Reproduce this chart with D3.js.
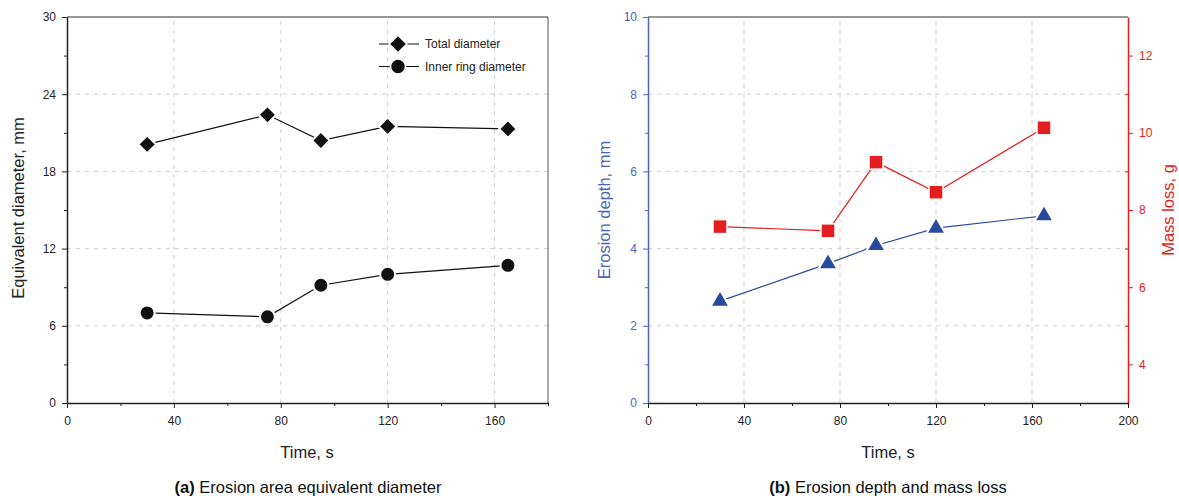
<!DOCTYPE html>
<html>
<head>
<meta charset="utf-8">
<script src="https://cdn.jsdelivr.net/npm/d3@7"></script>
<style>
  body { margin: 0; background: #fff; }
  svg text { font-family: "Liberation Sans", Arial, sans-serif; }
  .grid line { stroke: #cfcfcf; stroke-dasharray: 4,5; stroke-width: 1; }
</style>
</head>
<body>
<div class="container"></div>
<script>
const WIDTH = 1179;
const HEIGHT = 496;
const TOP = 17;
const BOTTOM = 403;

// chart (a)
const timeA = [30, 75, 95, 120, 165];
const totalDiameter = [20.1, 22.4, 20.4, 21.5, 21.3];
const innerDiameter = [7.0, 6.7, 9.15, 10.0, 10.7];
const yTicksA = [0, 6, 12, 18, 24, 30];
const xTicksA = [0, 40, 80, 120, 160];

// chart (b)
const timeB = [30, 75, 95, 120, 165];
const erosionDepth = [2.64, 3.61, 4.08, 4.53, 4.85];
const massLoss = [7.57, 7.46, 9.24, 8.46, 10.13];
const yTicksB = [0, 2, 4, 6, 8, 10];
const y2TicksB = [4, 6, 8, 10, 12];
const xTicksB = [0, 40, 80, 120, 160, 200];

const BLUE_AXIS = "#4a66b5";
const BLUE = "#264a9c";
const RED = "#e41e20";

var translate = function(x, y){
    return "translate(" + x + "," + y + ")";
};

var svg = d3.select(".container").append("svg")
    .attr("width", WIDTH)
    .attr("height", HEIGHT);

// ---------- chart (a)
var xA = d3.scaleLinear().domain([0, 180]).range([67, 548]);
var yA = d3.scaleLinear().domain([0, 30]).range([BOTTOM, TOP]);

var drawGrid = function(xs, ys, xt, yt){
    var g = svg.append("g").attr("class", "grid");
    g.selectAll(".gx").data(xt).enter().append("line")
        .attr("x1", d => xs(d)).attr("x2", d => xs(d))
        .attr("y1", ys.range()[0]).attr("y2", ys.range()[1]);
    g.selectAll(".gy").data(yt).enter().append("line")
        .attr("y1", d => ys(d)).attr("y2", d => ys(d))
        .attr("x1", xs.range()[0]).attr("x2", xs.range()[1]);
};

drawGrid(xA, yA, [40, 80, 120, 160], [6, 12, 18, 24]);

// frame
svg.append("line").attr("x1", xA(0)).attr("x2", xA(180)).attr("y1", TOP).attr("y2", TOP)
    .attr("stroke", "#333").attr("stroke-width", 1.2);
svg.append("line").attr("x1", xA(180)).attr("x2", xA(180)).attr("y1", TOP).attr("y2", BOTTOM)
    .attr("stroke", "#555").attr("stroke-width", 1);

var styleAxis = function(g, color, size){
    g.select(".domain").attr("stroke", color).attr("stroke-width", 1.5);
    g.selectAll(".tick line").attr("stroke", color).attr("stroke-width", 1);
    g.selectAll(".tick text").attr("fill", color).style("font-size", size + "px");
};

var minorAxis = function(axisFn, scale, vals, pos, color){
    var g = svg.append("g").attr("transform", pos)
        .call(axisFn(scale).tickValues(vals).tickSize(3).tickFormat(""));
    g.select(".domain").remove();
    g.selectAll(".tick line").attr("stroke", color);
};

minorAxis(d3.axisBottom, xA, [20, 60, 100, 140, 180], translate(0, BOTTOM), "#222");
minorAxis(d3.axisLeft, yA, [3, 9, 15, 21, 27], translate(xA(0), 0), "#222");

var gxA = svg.append("g").attr("transform", translate(0, BOTTOM))
    .call(d3.axisBottom(xA).tickValues(xTicksA).tickSize(5).tickPadding(8).tickSizeOuter(0));
styleAxis(gxA, "#222", 12);
var gyA = svg.append("g").attr("transform", translate(xA(0), 0))
    .call(d3.axisLeft(yA).tickValues(yTicksA).tickSize(5).tickPadding(6).tickSizeOuter(0));
styleAxis(gyA, "#222", 12);

var lineA = d3.line().x((d, i) => xA(timeA[i])).y(d => yA(d));
svg.append("path").datum(totalDiameter).attr("d", lineA)
    .attr("fill", "none").attr("stroke", "#111").attr("stroke-width", 1.2);
svg.append("path").datum(innerDiameter).attr("d", lineA)
    .attr("fill", "none").attr("stroke", "#111").attr("stroke-width", 1.2);

var diamond = d3.symbol().type(d3.symbolDiamond2).size(200);
svg.append("g").selectAll("path").data(totalDiameter).enter().append("path")
    .attr("d", diamond)
    .attr("transform", (d, i) => translate(xA(timeA[i]), yA(d)))
    .attr("fill", "#111").attr("stroke", "#fff").attr("stroke-width", 2);
svg.append("g").selectAll("circle").data(innerDiameter).enter().append("circle")
    .attr("cx", (d, i) => xA(timeA[i])).attr("cy", d => yA(d)).attr("r", 7.5)
    .attr("fill", "#111").attr("stroke", "#fff").attr("stroke-width", 2);

// legend
var legend = svg.append("g").attr("transform", translate(379, 44));
[["Total diameter", "d"], ["Inner ring diameter", "c"]].forEach(function(item, i){
    var g = legend.append("g").attr("transform", translate(0, i * 22.5));
    g.append("line").attr("x1", 0).attr("x2", 40).attr("stroke", "#111").attr("stroke-width", 1.2);
    if (item[1] === "d") {
        g.append("path").attr("d", diamond).attr("transform", translate(19, 0))
            .attr("fill", "#111").attr("stroke", "#fff").attr("stroke-width", 1.5);
    } else {
        g.append("circle").attr("cx", 19).attr("r", 7.5)
            .attr("fill", "#111").attr("stroke", "#fff").attr("stroke-width", 1.5);
    }
    g.append("text").attr("x", 46).attr("y", 4).style("font-size", "12px")
        .attr("fill", "#222").text(item[0]);
});

svg.append("text").attr("transform", translate(24, 208) + " rotate(-90)")
    .attr("text-anchor", "middle").style("font-size", "16.5px").attr("fill", "#222")
    .text("Equivalent diameter, mm");
svg.append("text").attr("x", 307).attr("y", 458).attr("text-anchor", "middle")
    .style("font-size", "16.5px").attr("fill", "#222").text("Time, s");
var capA = svg.append("text").attr("x", 308).attr("y", 493).attr("text-anchor", "middle")
    .style("font-size", "16.5px").attr("fill", "#111");
capA.append("tspan").attr("font-weight", "bold").text("(a)");
capA.append("tspan").text(" Erosion area equivalent diameter");

// ---------- chart (b)
var xB = d3.scaleLinear().domain([0, 200]).range([648, 1128]);
var yB = d3.scaleLinear().domain([0, 10]).range([BOTTOM, TOP]);
var y2B = d3.scaleLinear().domain([3, 13]).range([BOTTOM, TOP]);

drawGrid(xB, yB, [40, 80, 120, 160], [2, 4, 6, 8]);

svg.append("line").attr("x1", xB(0)).attr("x2", xB(200)).attr("y1", TOP).attr("y2", TOP)
    .attr("stroke", "#333").attr("stroke-width", 1.2);

minorAxis(d3.axisBottom, xB, [20, 60, 100, 140, 180], translate(0, BOTTOM), "#222");
minorAxis(d3.axisLeft, yB, [1, 3, 5, 7, 9], translate(xB(0), 0), BLUE_AXIS);
minorAxis(d3.axisLeft, y2B, [5, 7, 9, 11], translate(xB(200), 0), RED);

var gyB = svg.append("g").attr("transform", translate(xB(0), 0))
    .call(d3.axisLeft(yB).tickValues(yTicksB).tickSize(5).tickPadding(6).tickSizeOuter(0));
styleAxis(gyB, BLUE_AXIS, 12);
var gy2B = svg.append("g").attr("transform", translate(xB(200), 0))
    .call(d3.axisRight(y2B).tickValues(y2TicksB).tickSize(5).tickPadding(6).tickSizeOuter(0));
styleAxis(gy2B, RED, 12);
var gxB = svg.append("g").attr("transform", translate(0, BOTTOM))
    .call(d3.axisBottom(xB).tickValues(xTicksB).tickSize(5).tickPadding(8).tickSizeOuter(0));
styleAxis(gxB, "#222", 12);

var lineDepth = d3.line().x((d, i) => xB(timeB[i])).y(d => yB(d));
var lineMass = d3.line().x((d, i) => xB(timeB[i])).y(d => y2B(d));
svg.append("path").datum(erosionDepth).attr("d", lineDepth)
    .attr("fill", "none").attr("stroke", BLUE).attr("stroke-width", 1.2);
svg.append("path").datum(massLoss).attr("d", lineMass)
    .attr("fill", "none").attr("stroke", RED).attr("stroke-width", 1.2);

var tri = d3.symbol().type(d3.symbolTriangle).size(160);
svg.append("g").selectAll("path").data(erosionDepth).enter().append("path")
    .attr("d", tri)
    .attr("transform", (d, i) => translate(xB(timeB[i]), yB(d)))
    .attr("fill", BLUE).attr("stroke", "#fff").attr("stroke-width", 2);
svg.append("g").selectAll("rect").data(massLoss).enter().append("rect")
    .attr("x", (d, i) => xB(timeB[i]) - 7).attr("y", d => y2B(d) - 7)
    .attr("width", 14).attr("height", 14)
    .attr("fill", RED).attr("stroke", "#fff").attr("stroke-width", 1.5);

svg.append("text").attr("transform", translate(610, 210) + " rotate(-90)")
    .attr("text-anchor", "middle").style("font-size", "16.5px").attr("fill", BLUE_AXIS)
    .text("Erosion depth, mm");
svg.append("text").attr("transform", translate(1174, 210) + " rotate(-90)")
    .attr("text-anchor", "middle").style("font-size", "16.5px").attr("fill", RED)
    .text("Mass loss, g");
svg.append("text").attr("x", 888).attr("y", 458).attr("text-anchor", "middle")
    .style("font-size", "16.5px").attr("fill", "#222").text("Time, s");
var capB = svg.append("text").attr("x", 888).attr("y", 493).attr("text-anchor", "middle")
    .style("font-size", "16.5px").attr("fill", "#111");
capB.append("tspan").attr("font-weight", "bold").text("(b)");
capB.append("tspan").text(" Erosion depth and mass loss");
</script>
</body>
</html>
